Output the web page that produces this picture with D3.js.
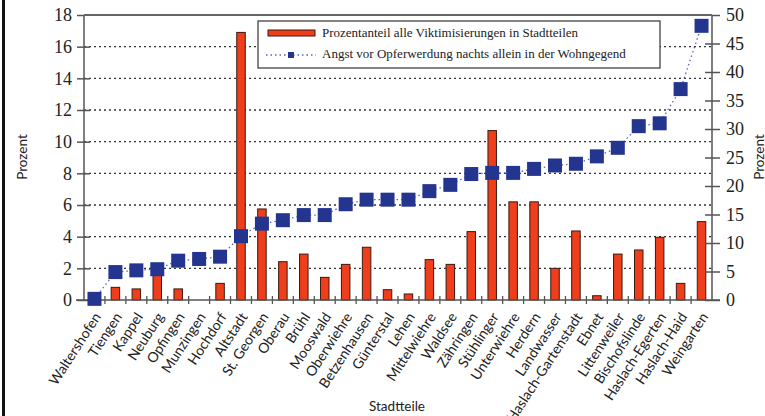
<!DOCTYPE html>
<html><head><meta charset="utf-8">
<script src="https://cdn.jsdelivr.net/npm/d3@7"></script>
<style>body{margin:0;background:#fff}svg{display:block}</style>
</head><body>
<script>
const categories = ["Waltershofen","Tiengen","Kappel","Neuburg","Opfingen","Munzingen","Hochdorf","Altstadt","St. Georgen","Oberau","Brühl","Mooswald","Oberwiehre","Betzenhausen","Günterstal","Lehen","Mittelwiehre","Waldsee","Zähringen","Stühlinger","Unterwiehre","Herdern","Landwasser","Haslach-Gartenstadt","Ebnet","Littenweiler","Bischofslinde","Haslach-Egerten","Haslach-Haid","Weingarten"];
const victimization = [0,0.8,0.7,1.6,0.7,0,1.05,16.9,5.75,2.42,2.9,1.43,2.25,3.33,0.65,0.38,2.55,2.25,4.32,10.7,6.2,6.2,2.0,4.36,0.27,2.9,3.16,3.96,1.05,4.95];
const fear = [0.2,4.9,5.2,5.4,6.9,7.2,7.6,11.2,13.4,14.0,14.9,14.9,16.8,17.6,17.6,17.6,19.1,20.2,22.1,22.3,22.3,23.0,23.6,23.9,25.2,26.7,30.5,31.0,37.0,48.1];
const leftTicks = [0,2,4,6,8,10,12,14,16,18];
const rightTicks = [0,5,10,15,20,25,30,35,40,45,50];
const legendLabels = ["Prozentanteil alle Viktimisierungen in Stadtteilen","Angst vor Opferwerdung nachts allein in der Wohngegend"];

const W=765,H=416;
const m={l:84,r:712,t:15,b:300};
const svg=d3.select("body").append("svg").attr("width",W).attr("height",H);
const x=d3.scaleBand().domain(categories).range([m.l,m.r]);
const yL=d3.scaleLinear().domain([0,18]).range([m.b,m.t]);
const yR=d3.scaleLinear().domain([0,50]).range([m.b,m.t]);
const serif="'Liberation Serif','Times New Roman',serif";
const sans="Lato,'Open Sans',sans-serif";

// left border
svg.append("rect").attr("x",2).attr("y",0).attr("width",3).attr("height",H).attr("fill","#111");

// grid
svg.append("g").selectAll("line").data(leftTicks.filter(d=>d>0&&d<18)).join("line")
  .attr("x1",m.l).attr("x2",m.r).attr("y1",d=>yL(d)).attr("y2",d=>yL(d))
  .attr("stroke","#333").attr("stroke-width",1.4).attr("stroke-dasharray","2,3");

// bars
const bw=8.5;
svg.append("g").selectAll("rect").data(categories).join("rect")
  .attr("x",(d)=>x(d)+x.bandwidth()/2-bw/2).attr("width",bw)
  .attr("y",(d,i)=>yL(victimization[i])).attr("height",(d,i)=>yL(0)-yL(victimization[i]))
  .attr("fill","#ee3e1c").attr("stroke","#3a1a10").attr("stroke-width",1)
  .attr("display",(d,i)=>victimization[i]>0?null:"none");

// axes
const leftAxis=d3.axisLeft(yL).tickValues(leftTicks).tickSize(0).tickPadding(12).tickFormat(d3.format("d"));
const gl=svg.append("g").attr("transform",`translate(${m.l},0)`).call(leftAxis);
gl.select(".domain").remove();
gl.selectAll("text").attr("font-family",serif).attr("font-size",18).attr("fill","#222");
gl.selectAll(".tick").append("line").attr("x1",-7).attr("x2",d=>d===18?0:6).attr("stroke","#555").attr("stroke-width",1.5);
const rightAxis=d3.axisRight(yR).tickValues(rightTicks).tickSize(0).tickPadding(14).tickFormat(d3.format("d"));
const gr=svg.append("g").attr("transform",`translate(${m.r},0)`).call(rightAxis);
gr.select(".domain").remove();
gr.selectAll("text").attr("font-family",serif).attr("font-size",18).attr("fill","#222");
gr.selectAll(".tick").append("line").attr("x1",d=>d===50?0:-7).attr("x2",8).attr("stroke","#555").attr("stroke-width",1.5);

// frame lines
svg.append("line").attr("x1",m.l).attr("x2",m.l).attr("y1",m.t).attr("y2",m.b).attr("stroke","#555").attr("stroke-width",1.5);
svg.append("line").attr("x1",m.r).attr("x2",m.r).attr("y1",m.t).attr("y2",m.b).attr("stroke","#555").attr("stroke-width",1.5);
svg.append("line").attr("x1",m.l).attr("x2",m.r).attr("y1",m.t).attr("y2",m.t).attr("stroke","#666").attr("stroke-width",2);
svg.append("line").attr("x1",m.l-8).attr("x2",m.r+8).attr("y1",m.b).attr("y2",m.b).attr("stroke","#555").attr("stroke-width",1.5);

// x ticks at band boundaries
const bounds=categories.slice(1).map(c=>x(c));
svg.append("g").selectAll("line").data(bounds).join("line")
  .attr("x1",d=>d).attr("x2",d=>d).attr("y1",m.b-4).attr("y2",m.b+4).attr("stroke","#555").attr("stroke-width",1.3);

// category labels
svg.append("g").selectAll("text").data(categories).join("text")
  .attr("transform",d=>`translate(${x(d)+x.bandwidth()/2+3},${m.b+14}) rotate(-57)`)
  .attr("text-anchor","end").attr("dy","0.35em").attr("font-family",sans).attr("font-size",14).attr("fill","#222")
  .text(d=>d);

// line series
const line=d3.line().x((d,i)=>x(categories[i])+x.bandwidth()/2).y(d=>yR(d));
svg.append("path").datum(fear).attr("d",line).attr("fill","none")
  .attr("stroke","#5566b8").attr("stroke-width",1.3).attr("stroke-dasharray","1.5,3");
const sq=14;
svg.append("g").selectAll("rect").data(fear).join("rect")
  .attr("x",(d,i)=>x(categories[i])+x.bandwidth()/2-sq/2).attr("y",d=>yR(d)-sq/2)
  .attr("width",sq).attr("height",sq).attr("fill","#243590");

// axis titles
svg.append("text").attr("transform","translate(27,157) rotate(-90)").attr("text-anchor","middle")
  .attr("font-family",sans).attr("font-size",13.5).attr("fill","#222").text("Prozent");
svg.append("text").attr("transform","translate(764,157) rotate(-90)").attr("text-anchor","middle")
  .attr("font-family",sans).attr("font-size",13.5).attr("fill","#222").text("Prozent");
svg.append("text").attr("x",397).attr("y",411).attr("text-anchor","middle")
  .attr("font-family",sans).attr("font-size",13.5).attr("fill","#222").text("Stadtteile");

// legend
const lg=svg.append("g");
lg.append("rect").attr("x",258).attr("y",21).attr("width",402).attr("height",47).attr("fill","#fff").attr("stroke","#333").attr("stroke-width",1.2);
lg.append("rect").attr("x",268).attr("y",30).attr("width",47).attr("height",6).attr("fill","#ee3e1c").attr("stroke","#3a1a10").attr("stroke-width",1);
lg.append("line").attr("x1",266).attr("x2",316).attr("y1",55).attr("y2",55).attr("stroke","#5566b8").attr("stroke-width",1.3).attr("stroke-dasharray","1.5,3");
lg.append("rect").attr("x",288).attr("y",52).attr("width",6).attr("height",6).attr("fill","#243590");
lg.selectAll("text").data(legendLabels).join("text")
  .attr("x",322).attr("y",(d,i)=>37+i*21).attr("font-family",serif).attr("font-size",13).attr("fill","#222").text(d=>d);
</script>
</body></html>
